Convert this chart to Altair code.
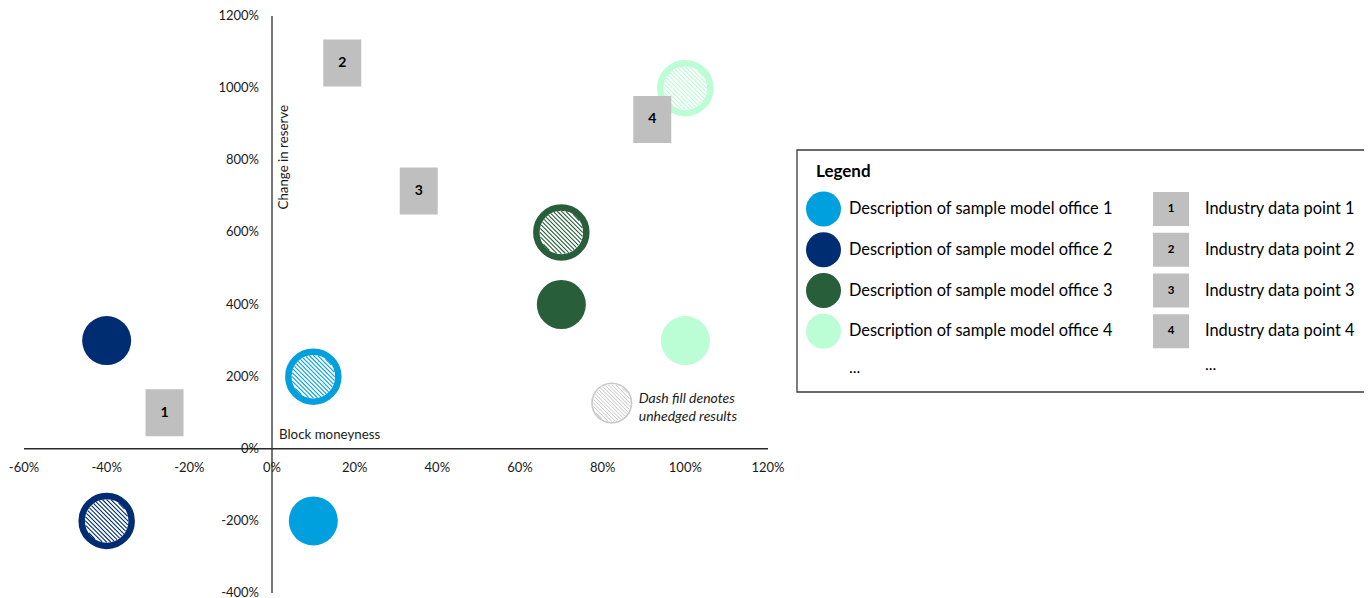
import altair as alt
import pandas as pd
import numpy as np

# ---------------- data ----------------
office_names = [
    "Description of sample model office 1",
    "Description of sample model office 2",
    "Description of sample model office 3",
    "Description of sample model office 4",
]
office_colors = ["#00A0DF", "#002D72", "#285E3A", "#BBFDD5"]

hedged_x = [10, -40, 70, 100]
hedged_y = [-200, 300, 400, 300]
unhedged_x = [10, -40, 70, 100]
unhedged_y = [200, -200, 600, 1000]

industry_labels = ["1", "2", "3", "4"]
industry_names = ["Industry data point 1", "Industry data point 2",
                  "Industry data point 3", "Industry data point 4"]
industry_x = [-26, 17, 35.5, 92]
industry_y = [100, 1070, 715, 913]

x_ticks = [-60, -40, -20, 0, 20, 40, 60, 80, 100, 120]
x_tick_labels = ["-60%", "-40%", "-20%", "0%", "20%", "40%", "60%", "80%", "100%", "120%"]
y_ticks = [-400, -200, 0, 200, 400, 600, 800, 1000, 1200]
y_tick_labels = ["-400%", "-200%", "0%", "200%", "400%", "600%", "800%", "1000%", "1200%"]

note_x = [82.2]
note_y = [127]
note_text = ["Dash fill denotes\nunhedged results"]

x_title = "Block moneyness"
y_title = "Change in reserve"
legend_title = "Legend"
more_label = "..."

# ---------------- styles ----------------
FONT = "Lato"
TXT = "#1a1a1a"
AXC = "#2b2b2b"
GRAY = "#BFBFBF"


def hatch_path(step=0.14):
    s = 1 / np.sqrt(2)
    parts = []
    for d in np.arange(-0.98, 0.981, step):
        h = np.sqrt(max(1 - d * d, 0))
        cx, cy = d * s, -d * s
        x1, y1 = cx - h * s, cy - h * s
        x2, y2 = cx + h * s, cy + h * s
        parts.append(f"M{x1:.3f},{y1:.3f}L{x2:.3f},{y2:.3f}")
    return "".join(parts)


HATCH = hatch_path()
RECT_TALL = "M-0.8085,-1L0.8085,-1L0.8085,1L-0.8085,1Z"
RECT_LEG = "M-1,-0.944L1,-0.944L1,0.944L-1,0.944Z"

xs = alt.Scale(domain=[-60, 120], range=[0, 744], nice=False, zero=False)
ys = alt.Scale(domain=[-400, 1200], nice=False, zero=False)
cs = alt.Scale(domain=office_names, range=office_colors)

# ---------------- tables ----------------
hedged = pd.DataFrame({"office": office_names, "x": hedged_x, "y": hedged_y})
unhedged = pd.DataFrame({"office": office_names, "x": unhedged_x, "y": unhedged_y})
industry = pd.DataFrame({"label": industry_labels, "x": industry_x, "y": industry_y})
xt = pd.DataFrame({"v": x_ticks, "t": x_tick_labels})
yt = pd.DataFrame({"v": y_ticks, "t": y_tick_labels})
note = pd.DataFrame({"x": note_x, "y": note_y, "t": note_text})
one = pd.DataFrame({"a": [0]})

X = lambda f="x": alt.X(f"{f}:Q", scale=xs, axis=None)
Y = lambda f="y": alt.Y(f"{f}:Q", scale=ys, axis=None)

x_axis = alt.Chart(one).mark_rule(color=AXC, strokeWidth=1.3).encode(
    x=alt.datum(-60, scale=xs, axis=None), x2=alt.datum(120),
    y=alt.datum(0, scale=ys, axis=None))
y_axis = alt.Chart(one).mark_rule(color=AXC, strokeWidth=1.3).encode(
    x=alt.datum(0, scale=xs, axis=None),
    y=alt.datum(-400, scale=ys, axis=None), y2=alt.datum(1200))

x_lab = alt.Chart(xt).mark_text(font=FONT, fontSize=13, color=TXT, dy=19,
                                baseline="middle", align="center").encode(
    x=X("v"), y=alt.datum(0, scale=ys, axis=None), text="t:N")
y_lab = alt.Chart(yt).mark_text(font=FONT, fontSize=13, color=TXT, dx=-13,
                                baseline="middle", align="right").encode(
    x=alt.datum(0, scale=xs, axis=None), y=Y("v"), text="t:N")

x_tit = alt.Chart(one).mark_text(font=FONT, fontSize=13.3, color=TXT, dx=7, dy=-14,
                                 align="left", baseline="middle").encode(
    x=alt.datum(0, scale=xs, axis=None), y=alt.datum(0, scale=ys, axis=None),
    text=alt.value(x_title))
y_tit = alt.Chart(one).mark_text(font=FONT, fontSize=13.3, color=TXT, angle=270,
                                 dx=3, dy=12, align="center", baseline="middle").encode(
    x=alt.datum(0, scale=xs, axis=None), y=alt.datum(800, scale=ys, axis=None),
    text=alt.value(y_title))

filled = alt.Chart(hedged).mark_point(shape="circle", filled=True, size=2401, opacity=1,
                                      strokeWidth=0).encode(
    x=X(), y=Y(), color=alt.Color("office:N", scale=cs, legend=None))
rings = alt.Chart(unhedged).mark_point(shape="circle", filled=False, size=2500, opacity=1,
                                       strokeWidth=6.5).encode(
    x=X(), y=Y(), color=alt.Color("office:N", scale=cs, legend=None))
hatch = alt.Chart(unhedged).mark_point(shape=HATCH, filled=False, size=1849, opacity=1,
                                       strokeWidth=1.1).encode(
    x=X(), y=Y(), color=alt.Color("office:N", scale=cs, legend=None))

squares = alt.Chart(industry).mark_point(shape=RECT_TALL, filled=True, size=2209, opacity=1,
                                         color=GRAY, strokeWidth=0).encode(x=X(), y=Y())
sq_text = alt.Chart(industry).mark_text(font=FONT, fontSize=14, fontWeight="bold",
                                        color="#000", baseline="middle").encode(
    x=X(), y=Y(), text="label:N")

note_ring = alt.Chart(note).mark_point(shape="circle", filled=False, size=1560, opacity=1,
                                       strokeWidth=1.6, color="#C8C8C8").encode(x=X(), y=Y())
note_hatch = alt.Chart(note).mark_point(shape=HATCH, filled=False, size=1369, opacity=1,
                                        strokeWidth=1.0, color="#C4C4C4").encode(x=X(), y=Y())
note_txt = alt.Chart(note).mark_text(font=FONT, fontSize=14, fontStyle="italic", color=TXT,
                                     align="left", baseline="middle", dx=27, dy=-4,
                                     lineBreak="\n", lineHeight=18).encode(
    x=X(), y=Y(), text="t:N")

plot = alt.layer(x_axis, y_axis, x_lab, y_lab, x_tit, y_tit,
                 filled, rings, hatch, squares, sq_text,
                 note_ring, note_hatch, note_txt)

# ---------------- legend panel ----------------
leg_rows = alt.Scale(domain=[0, 4], range=[193, 356])
leg_off = pd.DataFrame({"row": list(range(4)), "office": office_names})
leg_ind = pd.DataFrame({"row": list(range(4)), "label": industry_labels, "name": industry_names})
leg_more = pd.DataFrame({"row": [4], "t": [more_label]})
LY = alt.Y("row:Q", scale=leg_rows, axis=None)

box = alt.Chart(one).mark_rect(fill="white", stroke="#3a3a3a", strokeWidth=1.3).encode(
    x=alt.value(773), x2=alt.value(1360), y=alt.value(134), y2=alt.value(376))
leg_title = alt.Chart(one).mark_text(font=FONT, fontSize=17, fontWeight="bold", color="#000",
                                     align="left", baseline="middle").encode(
    x=alt.value(792), y=alt.value(156), text=alt.value(legend_title))
leg_circ = alt.Chart(leg_off).mark_point(shape="circle", filled=True, size=1225, opacity=1,
                                         strokeWidth=0).encode(
    x=alt.value(799.5), y=LY, color=alt.Color("office:N", scale=cs, legend=None))
leg_desc = alt.Chart(leg_off).mark_text(font=FONT, fontSize=16.4, color="#000",
                                        align="left", baseline="middle").encode(
    x=alt.value(825), y=LY, text="office:N")
leg_sq = alt.Chart(leg_ind).mark_point(shape=RECT_LEG, filled=True, size=1296, opacity=1,
                                       color=GRAY, strokeWidth=0).encode(
    x=alt.value(1147), y=LY)
leg_sq_t = alt.Chart(leg_ind).mark_text(font=FONT, fontSize=11.5, fontWeight="bold", color="#000",
                                        baseline="middle").encode(
    x=alt.value(1147), y=LY, text="label:N")
leg_ind_t = alt.Chart(leg_ind).mark_text(font=FONT, fontSize=16.4, color="#000",
                                         align="left", baseline="middle").encode(
    x=alt.value(1181), y=LY, text="name:N")
leg_more1 = alt.Chart(leg_more).mark_text(font=FONT, fontSize=16, color="#000",
                                          align="left", baseline="middle", dy=-4).encode(
    x=alt.value(825), y=LY, text="t:N")
leg_more2 = alt.Chart(leg_more).mark_text(font=FONT, fontSize=16, color="#000",
                                          align="left", baseline="middle", dy=-7).encode(
    x=alt.value(1181), y=LY, text="t:N")

legend = alt.layer(box, leg_title, leg_circ, leg_desc, leg_sq, leg_sq_t, leg_ind_t,
                   leg_more1, leg_more2)

chart = alt.layer(plot, legend).resolve_scale(
    x="independent", y="independent", color="shared"
).properties(
    width=1340, height=577,
    padding={"left": 16, "top": 8, "right": 0, "bottom": 8},
    autosize=alt.AutoSizeParams(type="none"),
    background="white",
).configure_view(stroke=None)

chart.save("out.html", embed_options={"renderer": "svg", "actions": False})
